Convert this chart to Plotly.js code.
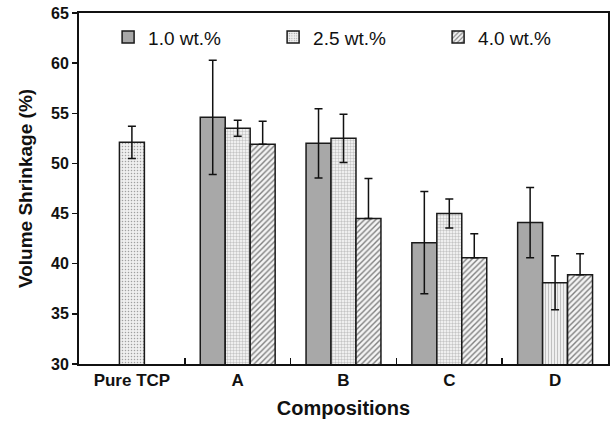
<!DOCTYPE html>
<html><head><meta charset="utf-8">
<script src="https://cdn.plot.ly/plotly-3.0.1.min.js"></script>
<style>body{margin:0;background:#fff}#c{width:612px;height:422px}</style>
</head><body><div id="c"></div>
<script>
const categories = ["Pure TCP", "A", "B", "C", "D"];
const seriesNames = ["1.0 wt.%", "2.5 wt.%", "4.0 wt.%"];
const cats10 = ["A", "B", "C", "D"];
const vals10 = [54.6, 52.0, 42.1, 44.1];
const err10 = [5.7, 3.45, 5.1, 3.5];
const cats25 = ["Pure TCP", "A", "B", "C", "D"];
const vals25 = [52.1, 53.5, 52.5, 45.0, 38.1];
const err25 = [1.6, 0.8, 2.4, 1.45, 2.7];
const cats40 = ["A", "B", "C", "D"];
const vals40 = [51.9, 44.5, 40.6, 38.9];
const err40 = [2.3, 4.0, 2.4, 2.1];

const catIndex = c => categories.indexOf(c);
const W = 0.236;
const lineStyle = {color: '#1a1a1a', width: 1.5};
const errStyle = {type: 'data', visible: true, color: '#111', thickness: 1.5, width: 4};
const FONT = 'Liberation Sans, Arial, sans-serif';

const traces = [
  {
    type: 'bar', name: seriesNames[0],
    x: cats10.map(catIndex), y: vals10,
    width: W, offset: -1.5 * W,
    marker: {color: '#a8a8a8', line: lineStyle},
    error_y: Object.assign({array: err10}, errStyle)
  },
  {
    type: 'bar', name: seriesNames[1],
    x: cats25.map(catIndex), y: vals25,
    width: W, offset: -0.5 * W,
    marker: {color: '#eeeeee', line: lineStyle,
      pattern: {shape: ['.', '+', '+', '+', '|'], fgcolor: '#a0a0a0', bgcolor: '#efefef', size: 3, solidity: 0.2, fillmode: 'replace'}},
    error_y: Object.assign({array: err25}, errStyle)
  },
  {
    type: 'bar', name: seriesNames[2],
    x: cats40.map(catIndex), y: vals40,
    width: W, offset: 0.5 * W,
    marker: {color: '#f2f2f2', line: lineStyle,
      pattern: {shape: '/', fgcolor: '#808080', bgcolor: '#f4f4f4', size: 4, solidity: 0.35, fillmode: 'replace'}},
    error_y: Object.assign({array: err40, symmetric: false, arrayminus: err40.map(() => 0)}, errStyle)
  }
];

const layout = {
  width: 612, height: 422,
  margin: {l: 79, r: 4, t: 13, b: 58},
  paper_bgcolor: '#fff', plot_bgcolor: '#fff',
  barmode: 'overlay',
  showlegend: true,
  font: {family: FONT, color: '#111'},
  legend: {orientation: 'h', x: 0.055, y: 0.985, xanchor: 'left', yanchor: 'top',
    entrywidth: 120, entrywidthmode: 'pixels', itemwidth: 30,
    font: {size: 19, color: '#111'}, bgcolor: 'rgba(0,0,0,0)'},
  xaxis: {
    range: [-0.5, 4.5], tickmode: 'array',
    tickvals: categories.map((c, i) => i), ticktext: categories,
    showline: true, linecolor: '#111', linewidth: 2, mirror: true,
    showgrid: false, zeroline: false, ticks: '',
    tickfont: {size: 17, family: FONT, weight: 'bold'},
    title: {text: '<b>Compositions</b>', font: {size: 20}, standoff: 12}
  },
  xaxis2: {
    overlaying: 'x', range: [-0.5, 4.5], tickmode: 'array',
    tickvals: [0.5, 1.5, 2.5, 3.5], ticktext: ['', '', '', ''],
    ticks: 'inside', ticklen: 6, tickwidth: 1.5, tickcolor: '#111',
    showline: false, showgrid: false, zeroline: false, showticklabels: false
  },
  yaxis: {
    range: [30, 65], tickvals: [30, 35, 40, 45, 50, 55, 60, 65],
    showline: true, linecolor: '#111', linewidth: 2, mirror: true,
    showgrid: false, zeroline: false, ticks: 'outside', ticklen: 5, tickwidth: 1.5, tickcolor: '#111',
    tickfont: {size: 16, weight: 'bold'},
    title: {text: '<b>Volume Shrinkage (%)</b>', font: {size: 19}, standoff: 13}
  }
};

traces.push({type: 'scatter', x: [0], y: [30], xaxis: 'x2', mode: 'markers', marker: {opacity: 0}, showlegend: false, hoverinfo: 'skip'});

Plotly.newPlot('c', traces, layout, {staticPlot: true});
</script></body></html>
